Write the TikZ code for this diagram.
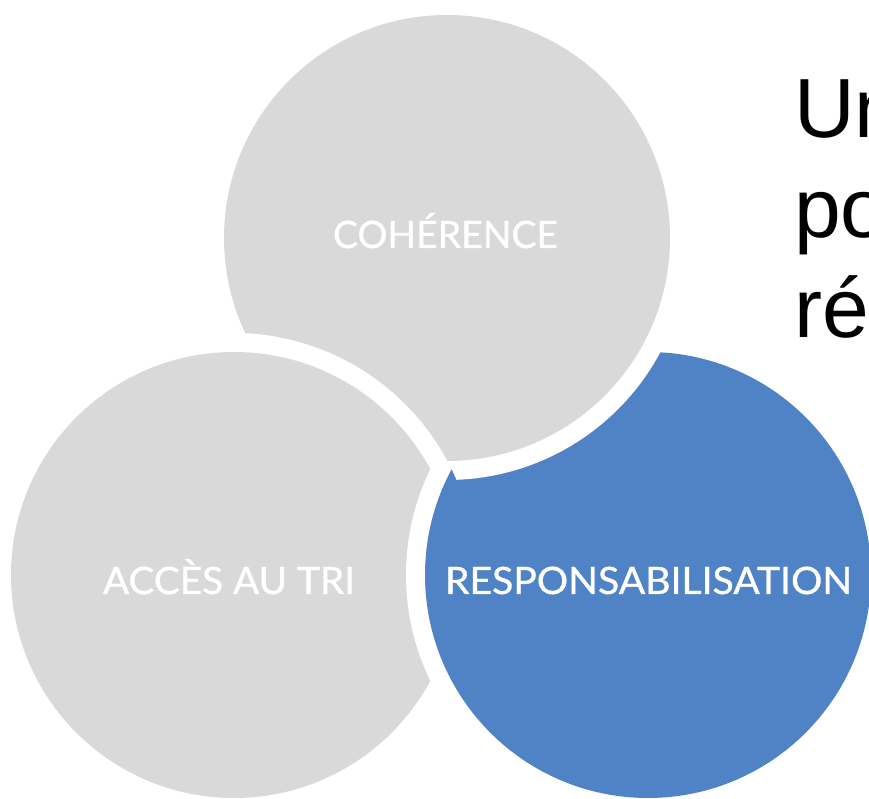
\documentclass[tikz,border=0pt]{standalone}
\usepackage{graphicx}
\usepackage{fontspec}
\setmainfont{Liberation Sans}
\newfontfamily\circfont[FakeBold=0.9]{Lato}
\definecolor{circgray}{RGB}{217,217,217}
\definecolor{circblue}{RGB}{80,131,198}
\tikzset{
  ringfill/.style={fill=white},
  grayfill/.style={fill=circgray},
  bluefill/.style={fill=circblue},
  circlabel/.style={anchor=base, inner sep=0pt, text=white,
    font=\circfont\fontsize{37.7pt}{40pt}\selectfont},
  bigtext/.style={anchor=base west, inner sep=0pt, text=black,
    font=\fontsize{84pt}{100pt}\selectfont}
}
\begin{document}
\begin{tikzpicture}[x=1pt,y=1pt]
\useasboundingbox (0,0) rectangle (869,799);
\clip (0,0) rectangle (869,799);
\coordinate (A) at (447,561);
\coordinate (B) at (648,224);
\coordinate (C) at (234,224);
% top circle
\fill[ringfill] (A) circle[radius=242pt];
\fill[grayfill] (A) circle[radius=223pt];
% left circle (over top circle)
\fill[ringfill] (C) circle[radius=242pt];
\fill[grayfill] (C) circle[radius=223pt];
% blue circle (over left circle)
\fill[ringfill] (B) circle[radius=242pt];
\fill[bluefill] (B) circle[radius=223pt];
% top circle over blue circle, outside the left circle
\begin{scope}
\clip (276.02,462.32) arc[start angle=80, end angle=-30, radius=242pt]
  -- (900,103) -- (900,820) -- (276.02,820) -- cycle;
\fill[ringfill] (A) circle[radius=242pt];
\fill[grayfill] (A) circle[radius=223pt];
\end{scope}
% labels
\node[circlabel] (coh) at (445.5,551) {\resizebox{225pt}{\height}{COHÉRENCE}};
\node[circlabel] (acc) at (229,205) {\resizebox{252pt}{\height}{ACCÈS AU TRI}};
\node[circlabel] (resp) at (648.5,205) {\resizebox{407pt}{\height}{RESPONSABILISATION}};
% title text, cut at the right edge
\node[bigtext] (l1) at (794,661) {Un};
\node[bigtext] (l2) at (794,561) {po};
\node[bigtext] (l3) at (794,461) {ré};
\end{tikzpicture}
\end{document}
